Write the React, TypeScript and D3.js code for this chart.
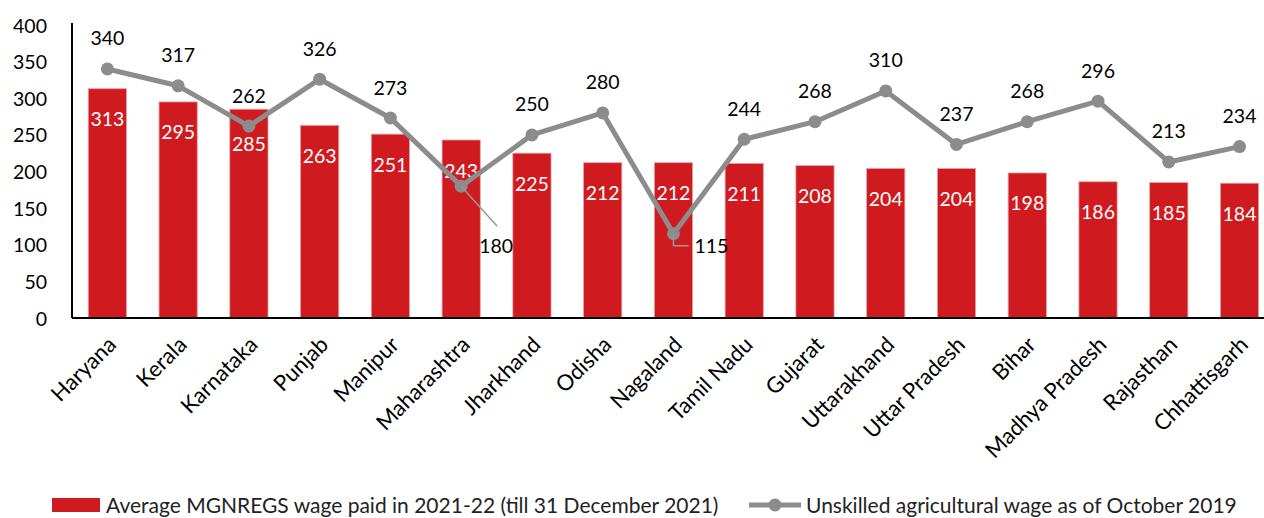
import React from "react";
import * as d3 from "d3";

const categories = [
  "Haryana", "Kerala", "Karnataka", "Punjab", "Manipur", "Maharashtra", "Jharkhand",
  "Odisha", "Nagaland", "Tamil Nadu", "Gujarat", "Uttarakhand", "Uttar Pradesh",
  "Bihar", "Madhya Pradesh", "Rajasthan", "Chhattisgarh",
];
const barValues = [313, 295, 285, 263, 251, 243, 225, 212, 212, 211, 208, 204, 204, 198, 186, 185, 184];
const lineValues = [340, 317, 262, 326, 273, 180, 250, 280, 115, 244, 268, 310, 237, 268, 296, 213, 234];
const yTicks = [0, 50, 100, 150, 200, 250, 300, 350, 400];
const barSeriesName = "Average MGNREGS wage paid in 2021-22 (till 31 December 2021)";
const lineSeriesName = "Unskilled agricultural wage as of October 2019";

const W = 1264;
const H = 518;
const FONT = "Lato, 'Open Sans', sans-serif";
const RED = "#cf1a20";
const GREY = "#8c8c8c";

export default function App() {
  const left = 72;
  const top = 25;
  const bottom = 318;
  const x = d3
    .scaleBand<string>()
    .domain(categories)
    .range([left, left + 17 * 70.76])
    .paddingInner(0.46)
    .paddingOuter(0.23);
  const y = d3.scaleLinear().domain([0, 400]).range([bottom, top]);
  const cx = (c: string) => (x(c) as number) + x.bandwidth() / 2;

  const line = d3
    .line<number>()
    .x((_, i) => cx(categories[i]))
    .y((d) => y(d));

  return (
    <svg width={W} height={H} style={{ position: "absolute", left: 0, top: 0, background: "#fff" }} fontFamily={FONT}>
      {/* bars */}
      {barValues.map((v, i) => (
        <rect
          key={"b" + i}
          x={x(categories[i])}
          y={y(v)}
          width={x.bandwidth()}
          height={bottom - y(v)}
          fill={RED}
          stroke="#e8a0a2"
          strokeWidth={0.8}
        />
      ))}
      {/* bar labels */}
      {barValues.map((v, i) => (
        <text
          key={"bl" + i}
          x={cx(categories[i])}
          y={y(v) + (categories[i] === "Karnataka" ? 34 : 30)}
          textAnchor="middle"
          dominantBaseline="central"
          fill="#fff"
          fontSize={19.5}
        >
          {v}
        </text>
      ))}
      {/* axes */}
      <line x1={left} x2={left} y1={top - 2} y2={bottom} stroke="#000" strokeWidth={2} />
      <line x1={left} x2={W} y1={bottom} y2={bottom} stroke="#000" strokeWidth={2} />
      {yTicks.map((t) => (
        <text key={"yt" + t} x={47} y={y(t)} textAnchor="end" dominantBaseline="central" fontSize={19.5} fill="#000">
          {t}
        </text>
      ))}
      {categories.map((c) => (
        <text
          key={"xl" + c}
          transform={`translate(${cx(c) + 4},${bottom + 22}) rotate(-45)`}
          textAnchor="end"
          dominantBaseline="central"
          fontSize={22}
          fill="#000"
        >
          {c}
        </text>
      ))}
      {/* line series */}
      <path d={line(lineValues) || ""} fill="none" stroke={GREY} strokeWidth={5} strokeLinejoin="round" />
      {lineValues.map((v, i) => (
        <circle key={"p" + i} cx={cx(categories[i])} cy={y(v)} r={6.5} fill={GREY} />
      ))}
      {/* leader lines */}
      {(() => {
        const mi = categories.indexOf("Maharashtra");
        const ni = categories.indexOf("Nagaland");
        const mx = cx(categories[mi]);
        const my = y(lineValues[mi]);
        const nx = cx(categories[ni]);
        const ny = y(lineValues[ni]);
        return (
          <g>
            <line x1={mx} y1={my} x2={mx + 36} y2={my + 40} stroke="#999" strokeWidth={1.5} />
            <polyline points={`${nx},${ny} ${nx},${ny + 12} ${nx + 15},${ny + 12}`} fill="none" stroke="#999" strokeWidth={1.5} />
          </g>
        );
      })()}
      {lineValues.map((v, i) => {
        const c = categories[i];
        let lx = cx(c);
        let ly = y(v) - 31;
        let anchor: "middle" | "start" = "middle";
        if (c === "Maharashtra") {
          lx = cx(c) + 18;
          ly = y(v) + 59;
          anchor = "start";
        } else if (c === "Nagaland") {
          lx = cx(c) + 21;
          ly = y(v) + 12;
          anchor = "start";
        }
        return (
          <text key={"ll" + i} x={lx} y={ly} textAnchor={anchor} dominantBaseline="central" fontSize={19.5} fill="#000">
            {v}
          </text>
        );
      })}
      {/* legend */}
      <rect x={52} y={498} width={48} height={14} fill={RED} />
      <text x={106} y={504} dominantBaseline="central" fontSize={21} fill="#222">
        {barSeriesName}
      </text>
      <line x1={749} x2={801} y1={505} y2={505} stroke={GREY} strokeWidth={5} />
      <circle cx={775} cy={505} r={6.5} fill={GREY} />
      <text x={806} y={504} dominantBaseline="central" fontSize={21} fill="#222">
        {lineSeriesName}
      </text>
    </svg>
  );
}
